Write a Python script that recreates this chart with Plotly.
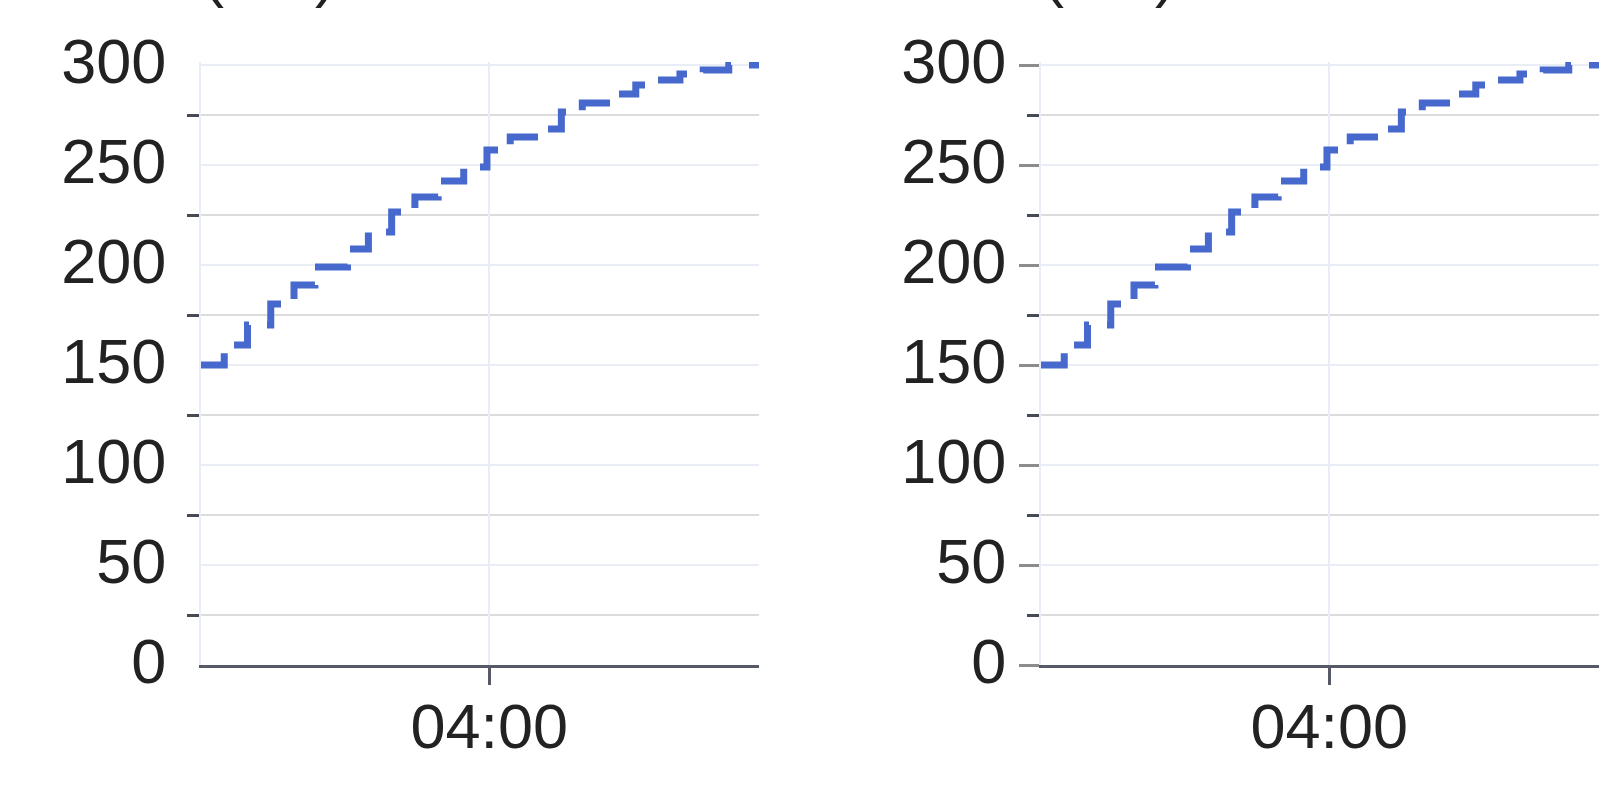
import plotly.graph_objects as go

# ---- data ----
day = "2024-01-01 "
times = ["01:56", "02:06", "02:16", "02:26", "02:36", "02:45", "02:59", "03:08",
         "03:18", "03:28", "03:38", "03:49", "03:59", "04:09", "04:21", "04:31",
         "04:40", "04:55", "05:03", "05:10", "05:22", "05:32", "05:43", "05:56"]
values = [150, 160, 170, 180.5, 190, 199, 208, 216.5,
          226.5, 234, 242, 249, 257.5, 264, 268, 276.5,
          281, 285.5, 290, 292.5, 295.5, 297.5, 300, 300]
panel_titles = ["(kW)", "(kW)"]
x_tick_vals = ["04:00"]
y_range = [0, 301.5]

x = [day + t for t in times]

LINE = "#4769cd"
GRID = "#e8edf6"
MINOR_GRID = "#dcdcdc"
AXIS = "#555a66"
FONT = "Liberation Sans, Arial, sans-serif"
FS = 63

fig = go.Figure()
for i in (1, 2):
    fig.add_trace(go.Scatter(
        x=x, y=values, mode="lines", line_shape="hv",
        line=dict(color=LINE, width=7, dash="35px,18px"),
        xaxis="x" if i == 1 else "x2", yaxis="y" if i == 1 else "y2",
        showlegend=False, hoverinfo="skip",
    ))

def xaxis(domain, anchor):
    return dict(
        domain=domain, anchor=anchor, type="date",
        range=[x[0], x[-1]],
        tickvals=[day + v for v in x_tick_vals], tickformat="%H:%M",
        showgrid=True, gridcolor=GRID, gridwidth=2,
        ticks="outside", ticklen=17, tickwidth=3, tickcolor=AXIS,
        showline=True, linecolor=AXIS, linewidth=3, zeroline=False,
        tickfont=dict(size=FS, color="#222222", family=FONT),
        ticklabelstandoff=-13,
    )

def yaxis(anchor, tickcolor):
    return dict(
        anchor=anchor, range=y_range, tick0=0, dtick=50,
        showgrid=True, gridcolor=GRID, gridwidth=2,
        ticks="outside", ticklen=20, tickwidth=3, tickcolor=tickcolor,
        minor=dict(dtick=25, showgrid=True, gridcolor=MINOR_GRID, gridwidth=2,
                   ticks="outside", ticklen=12, tickwidth=3, tickcolor="#454a55"),
        showline=True, linecolor=GRID, linewidth=2, zeroline=False,
        tickfont=dict(size=FS, color="#222222", family=FONT),
        ticklabelstandoff=0, ticklabelshift=-4,
    )

fig.update_layout(
    width=1600, height=800,
    margin=dict(l=201, r=1, t=62, b=135, pad=0),
    paper_bgcolor="white", plot_bgcolor="white",
    font=dict(family=FONT, size=FS, color="#222222"),
    showlegend=False,
    xaxis=xaxis([0, 0.39914], "y"),
    xaxis2=xaxis([0.60086, 1], "y2"),
    yaxis=yaxis("x", "rgba(0,0,0,0)"),
    yaxis2=yaxis("x2", "#8c8c8c"),
)

for i, t in enumerate(panel_titles):
    fig.add_annotation(
        text=t, showarrow=False,
        xref="x domain" if i == 0 else "x2 domain",
        yref="y domain" if i == 0 else "y2 domain",
        x=0, y=1, xanchor="left", yanchor="bottom", yshift=52,
        font=dict(size=FS, color="#222222", family=FONT),
    )

fig.write_html("out.html", config={"displayModeBar": False},
               post_script="document.body.style.margin='0';")
